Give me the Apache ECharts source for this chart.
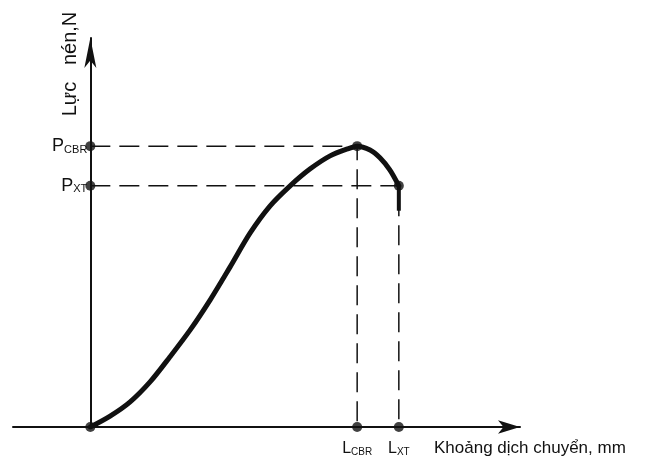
<!DOCTYPE html>
<html>
<head>
<meta charset="utf-8">
<script src="https://cdn.jsdelivr.net/npm/echarts@6/dist/echarts.min.js"></script>
<style>
  html, body { margin: 0; padding: 0; background: #fff; }
  #chart { width: 647px; height: 466px; }
</style>
</head>
<body>
<div id="chart"></div>
<script>
// characteristic points (arbitrary units, axes 0..100)
const L_CBR = 62.1
const L_XT = 71.8
const P_CBR = 72.2
const P_XT = 62

// force / displacement curve
const curveX = [0, 4.6, 9.2, 13.9, 18.5, 23.2, 27.9, 32.5, 37.2, 41.8, 46.5, 51.1, 55.8, 60.4, 62.1, 65.1, 67.4, 69.7, 71.8]
const curveY = [0, 2.8, 6.4, 11.6, 18, 24.9, 32.7, 41.1, 49.9, 56.8, 62, 66.3, 69.7, 71.7, 72.2, 71.2, 69.2, 66.1, 62]
// final drop after P_XT
const dropY = [62, 55.6]

const xTickLabels = { CBR: L_CBR, XT: L_XT }
const yTickLabels = { CBR: P_CBR, XT: P_XT }

const ink = '#111'
const font = 'Liberation Sans'

function subLabel(letter, table, v) {
  for (const k in table) {
    if (Math.abs(table[k] - v) < 0.01) return '{m|' + letter + '}{s|' + k + '}'
  }
  return ''
}

const myChart = echarts.init(document.getElementById('chart'))

const xMin = -18
const gridLeft = 13
const gridRight = 127
// move the y axis onto x = 0
const plotW = 647 - gridLeft - gridRight
const yOffset = -(-xMin) * plotW / (100 - xMin)

const options = {
  animation: false,
  grid: { left: gridLeft, right: gridRight, top: 38, bottom: 39, containLabel: false, outerBoundsMode: 'none' },
  xAxis: {
    type: 'value',
    min: xMin,
    max: 100,
    splitLine: { show: false },
    axisTick: { show: false },
    axisLine: {
      onZero: false,
      lineStyle: { color: ink, width: 2 },
      symbol: ['none', 'arrow'],
      symbolSize: [10, 22],
    },
    axisLabel: {
      customValues: [L_CBR, L_XT],
      margin: 14,
      formatter: (v) => subLabel('L', xTickLabels, v),
      rich: {
        m: { fontFamily: font, fontSize: 16, color: ink, verticalAlign: 'bottom', lineHeight: 16 },
        s: { fontFamily: font, fontSize: 10, color: ink, verticalAlign: 'bottom', lineHeight: 16 },
      },
    },
  },
  yAxis: {
    type: 'value',
    min: 0,
    max: 100,
    offset: yOffset,
    splitLine: { show: false },
    axisTick: { show: false },
    axisLine: {
      onZero: false,
      lineStyle: { color: ink, width: 2 },
      symbol: ['none', 'arrow'],
      symbolSize: [9, 30],
    },
    axisLabel: {
      customValues: [P_XT, P_CBR],
      margin: 3,
      formatter: (v) => subLabel('P', yTickLabels, v),
      rich: {
        m: { fontFamily: font, fontSize: 18, color: ink, verticalAlign: 'bottom', lineHeight: 18 },
        s: { fontFamily: font, fontSize: 11, color: ink, verticalAlign: 'bottom', lineHeight: 18 },
      },
    },
  },
  graphic: [
    {
      type: 'text',
      x: 70,
      y: 64,
      rotation: Math.PI / 2,
      style: { text: 'Lực   nén,N', fontFamily: font, fontSize: 20, fill: ink, align: 'center', verticalAlign: 'middle' },
    },
    {
      type: 'text',
      x: 434,
      y: 448,
      style: { text: 'Khoảng dịch chuyển, mm', fontFamily: font, fontSize: 17, fill: ink, align: 'left', verticalAlign: 'middle' },
    },
  ],
  series: [
    {
      // guide lines for P_CBR / L_CBR
      type: 'line',
      data: [[0, P_CBR], [L_CBR, P_CBR], [L_CBR, 0]],
      symbol: 'none',
      lineStyle: { color: ink, width: 1.5, type: [20, 9] },
      z: 1,
    },
    {
      // guide lines for P_XT / L_XT
      type: 'line',
      data: [[0, P_XT], [L_XT, P_XT], [L_XT, 0]],
      symbol: 'none',
      lineStyle: { color: ink, width: 1.5, type: [20, 9] },
      z: 1,
    },
    {
      type: 'line',
      data: curveX.map((x, i) => [x, curveY[i]]),
      symbol: 'none',
      smooth: 0.3,
      lineStyle: { color: ink, width: 5, cap: 'round', join: 'round' },
      z: 2,
    },
    {
      type: 'line',
      data: dropY.map((y) => [L_XT, y]),
      symbol: 'none',
      lineStyle: { color: ink, width: 4 },
      z: 2,
    },
    {
      type: 'scatter',
      data: [[0, 0], [0, P_CBR], [0, P_XT], [L_CBR, P_CBR], [L_XT, P_XT], [L_CBR, 0], [L_XT, 0]],
      symbolSize: 10,
      itemStyle: { color: ink },
      clip: false,
      z: 3,
    },
  ],
}

myChart.setOption(options)
</script>
</body>
</html>
